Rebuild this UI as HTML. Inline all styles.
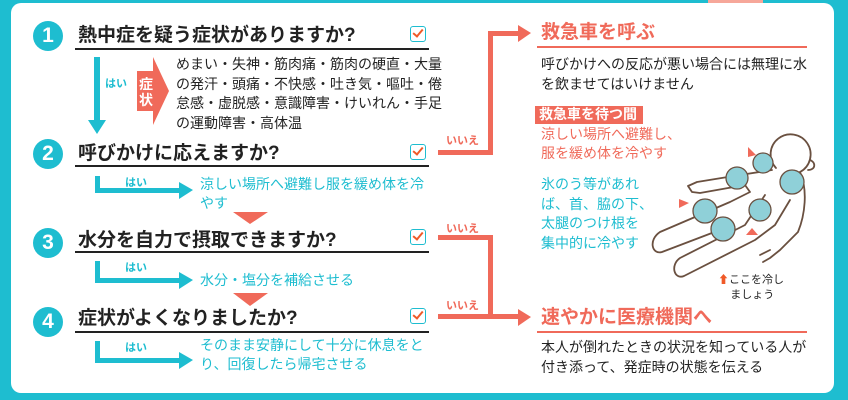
<!DOCTYPE html>
<html><head><meta charset="utf-8"><style>
body{margin:0;width:848px;height:400px;background:#1ebdd0;position:relative;overflow:hidden;font-family:"Liberation Sans","Noto Sans CJK JP",sans-serif}
.p{position:absolute;left:11px;top:3px;width:823px;height:390px;background:#fff;border-radius:10px}
.t{position:absolute;white-space:nowrap;line-height:1}
.c{position:absolute;width:30px;height:30px;border-radius:50%;background:#1ebdd0;color:#fff;font-weight:bold;font-size:21px;text-align:center;line-height:30px}
.h{font-size:19px;font-weight:bold;color:#222}
.ul{position:absolute;left:75px;width:354px;height:2px;background:#222}
.cb{position:absolute;left:410px;width:14px;height:14px;border:1.5px solid #1ebdd0;border-radius:3px;background:#fff}
.cb:after{content:"";position:absolute;left:4px;top:0px;width:4px;height:8px;border:solid #f05a28;border-width:0 2.5px 2.5px 0;transform:rotate(40deg)}
.s{font-size:14px;color:#222;line-height:19.5px}
.b{font-size:14px;color:#1ebdd0;line-height:19px}
.r{font-size:14px;color:#f06a5a;line-height:19px}
.y{font-size:11px;color:#1ebdd0;font-weight:bold}
.n{font-size:11px;color:#f06a5a;font-weight:bold}
</style></head><body>
<div style="position:absolute;left:708px;top:0;width:55px;height:5px;background:#f6a79a"></div>
<div class="p"></div>
<svg style="position:absolute;left:0;top:0" width="848" height="400">
<g fill="#1ebdd0"><rect x="94" y="57" width="6" height="64"/><polygon points="88,120 106,120 97,134"/>
<path d="M95 176 h5 v12 h80 v5 h-85z"/><polygon points="179,182 193,190 179,199"/>
<path d="M95 261 h5 v17 h80 v5 h-85z"/><polygon points="179,272 193,280 179,289"/>
<path d="M95 341 h5 v17 h80 v5 h-85z"/><polygon points="179,352 193,360 179,369"/></g>
<g fill="#f06a5a"><path d="M137 71 h16 v-14 l16 34 l-16 34 v-14 h-16z"/>
<polygon points="233,212 268,212 250,224"/><polygon points="233,293 268,293 250,306"/>
<path d="M438 150 h50 v-119 h32 v5 h-27 v119 h-55z"/><polygon points="518,25 531,33 518,42"/>
<path d="M438 235 h55 v79 h27 v5 h-82 v-5 h50 v-74 h-50z"/><polygon points="518,309 531,317 518,326"/>
<rect x="537" y="46" width="270" height="2"/><rect x="537" y="331" width="270" height="2"/>
<rect x="535" y="106" width="108" height="18"/></g>
<g fill="none" stroke="#6a5040" stroke-width="1.8" stroke-linecap="round" stroke-linejoin="round">
<path d="M776 168 A20 20 0 1 1 800 172"/>
<path d="M800 172 C808 190 805 215 798 232 L780 250 L770 258 L763 262 M760 255 L770 250"/>
<path d="M772 170 L740 175 L697 182 L688 186 L692 192 L700 193 L745 185 L750 192 L730 202 L660 232 C648 240 652 255 662 252 L725 228"/>
<path d="M765 195 L745 225 L680 258 C670 265 674 280 684 276 L755 240 L775 225 L790 200"/>
<path d="M810 160 c6 2 6 10 -2 10"/></g>
<g fill="#8fd0d8" stroke="#6a5040" stroke-width="1.3">
<circle cx="737" cy="178" r="11"/><circle cx="763" cy="163" r="10"/><circle cx="792" cy="182" r="12"/><circle cx="705" cy="211" r="12"/><circle cx="723" cy="229" r="12"/><circle cx="760" cy="210" r="11"/></g>
<g fill="#f06a5a"><polygon points="748,147 756,155 748,157"/><polygon points="752,228 758,235 746,235"/><polygon points="679,199 689,203 679,208"/></g>
</svg>
<div class="c" style="left:33px;top:21px">1</div>
<div class="c" style="left:33px;top:139px">2</div>
<div class="c" style="left:33px;top:228px">3</div>
<div class="c" style="left:33px;top:307px">4</div>
<div class="t h" style="left:78px;top:26px">熱中症を疑う症状がありますか?</div>
<div class="t h" style="left:78px;top:144px">呼びかけに応えますか?</div>
<div class="t h" style="left:78px;top:231px">水分を自力で摂取できますか?</div>
<div class="t h" style="left:78px;top:309px">症状がよくなりましたか?</div>
<div class="ul" style="top:48px"></div><div class="ul" style="top:165px"></div><div class="ul" style="top:251px"></div><div class="ul" style="top:331px"></div>
<div class="cb" style="top:26px"></div><div class="cb" style="top:144px"></div><div class="cb" style="top:229px"></div><div class="cb" style="top:308px"></div>
<div class="t y" style="left:105px;top:79px">はい</div>
<div class="t" style="left:139px;top:76px;color:#fff;font-size:14px;font-weight:bold;line-height:16px">症<br>状</div>
<div class="t s" style="left:176px;top:55px">めまい・失神・筋肉痛・筋肉の硬直・大量<br>の発汗・頭痛・不快感・吐き気・嘔吐・倦<br>怠感・虚脱感・意識障害・けいれん・手足<br>の運動障害・高体温</div>
<div class="t y" style="left:125px;top:178px">はい</div>
<div class="t b" style="left:200px;top:175px">涼しい場所へ避難し服を緩め体を冷<br>やす</div>
<div class="t y" style="left:125px;top:263px">はい</div>
<div class="t b" style="left:200px;top:271px">水分・塩分を補給させる</div>
<div class="t y" style="left:125px;top:343px">はい</div>
<div class="t b" style="left:200px;top:336px">そのまま安静にして十分に休息をと<br>り、回復したら帰宅させる</div>
<div class="t n" style="left:446px;top:136px">いいえ</div>
<div class="t n" style="left:446px;top:224px">いいえ</div>
<div class="t n" style="left:446px;top:301px">いいえ</div>
<div class="t h" style="left:541px;top:23px;color:#f06a5a">救急車を呼ぶ</div>
<div class="t s" style="left:541px;top:55px">呼びかけへの反応が悪い場合には無理に水<br>を飲ませてはいけません</div>
<div class="t" style="left:539px;top:107px;color:#fff;font-size:14px;font-weight:bold">救急車を待つ間</div>
<div class="t r" style="left:541px;top:125px">涼しい場所へ避難し、<br>服を緩め体を冷やす</div>
<div class="t b" style="left:541px;top:175px;line-height:19.7px">氷のう等があれ<br>ば、首、脇の下、<br>太腿のつけ根を<br>集中的に冷やす</div>
<div class="t" style="left:718px;top:273px;font-size:11px;color:#222;line-height:15px"><span style="color:#f05a28">⬆</span>ここを冷し<br>&nbsp;&nbsp;&nbsp;&nbsp;ましょう</div>
<div class="t h" style="left:541px;top:308px;color:#f06a5a">速やかに医療機関へ</div>
<div class="t s" style="left:541px;top:338px">本人が倒れたときの状況を知っている人が<br>付き添って、発症時の状態を伝える</div>
</body></html>
